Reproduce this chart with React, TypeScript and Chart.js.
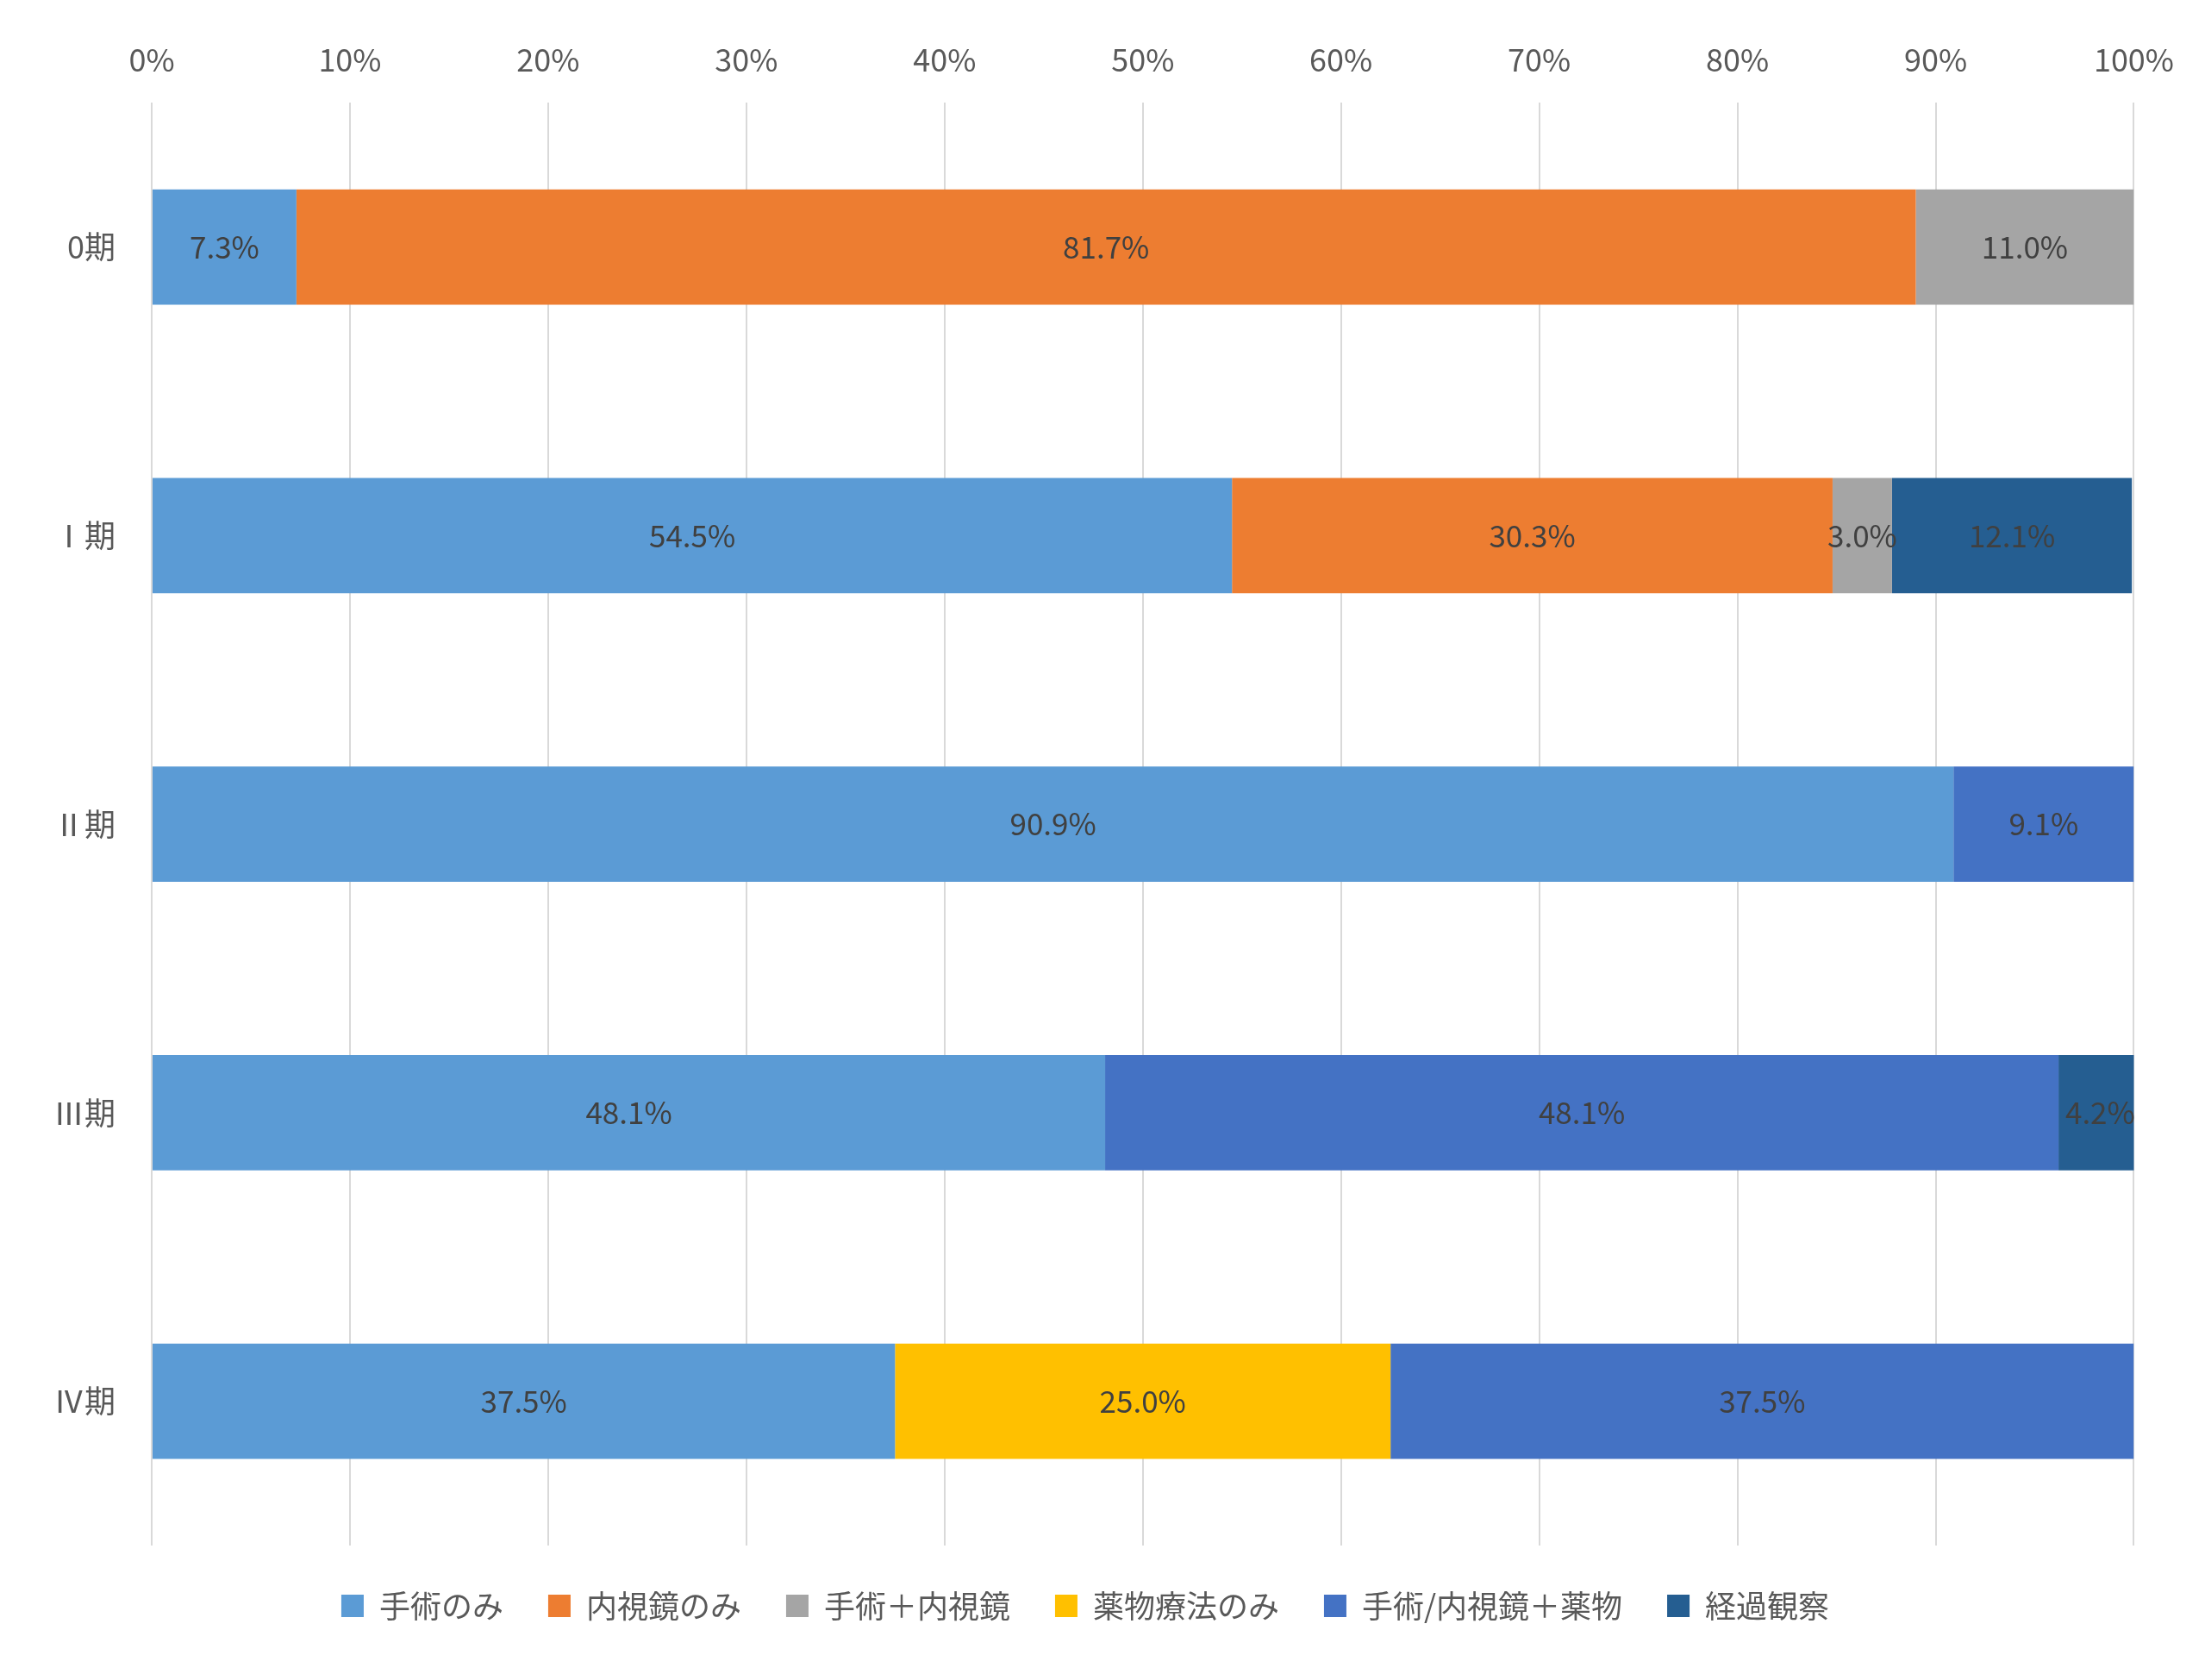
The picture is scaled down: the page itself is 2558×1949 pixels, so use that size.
import React, { useEffect, useRef } from "react";
import { Chart, registerables } from "chart.js";
Chart.register(...registerables);

const categories = ["0期", "Ⅰ期", "Ⅱ期", "Ⅲ期", "Ⅳ期"];
const seriesNames = ["手術のみ", "内視鏡のみ", "手術＋内視鏡", "薬物療法のみ", "手術/内視鏡＋薬物", "経過観察"];
const s1 = [7.3, 54.5, 90.9, 48.1, 37.5];
const s2 = [81.7, 30.3, 0, 0, 0];
const s3 = [11.0, 3.0, 0, 0, 0];
const s4 = [0, 0, 0, 0, 25.0];
const s5 = [0, 0, 9.1, 48.1, 37.5];
const s6 = [0, 12.1, 0, 4.2, 0];
const colors = ["#5B9BD5", "#ED7D31", "#A5A5A5", "#FFC000", "#4472C4", "#255E91"];
const FONT = "'Noto Sans CJK JP', 'Noto Sans', sans-serif";

const labelPlugin = {
  id: "barLabels",
  afterDatasetsDraw(chart: any) {
    const ctx = chart.ctx;
    ctx.save();
    ctx.font = `35px ${FONT}`;
    ctx.fillStyle = "#404040";
    ctx.textAlign = "center";
    ctx.textBaseline = "middle";
    chart.data.datasets.forEach((ds: any, i: number) => {
      const meta = chart.getDatasetMeta(i);
      meta.data.forEach((el: any, j: number) => {
        const v = ds.data[j];
        if (!v) return;
        const p = el.getProps(["x", "y", "base"], true);
        ctx.fillText(v.toFixed(1) + "%", (p.x + p.base) / 2, p.y);
      });
    });
    ctx.restore();
  },
};

export default function App() {
  const ref = useRef<HTMLCanvasElement>(null);
  useEffect(() => {
    const all = [s1, s2, s3, s4, s5, s6];
    const chart = new Chart(ref.current!, {
      type: "bar",
      data: {
        labels: categories,
        datasets: all.map((d, i) => ({
          label: seriesNames[i],
          data: d,
          backgroundColor: colors[i],
          barPercentage: 0.8,
          categoryPercentage: 0.5,
        })),
      },
      options: {
        indexAxis: "y",
        animation: false,
        responsive: true,
        maintainAspectRatio: false,
        layout: { padding: { left: 20, right: 60, top: 12, bottom: 50 } },
        scales: {
          x: {
            position: "top",
            stacked: true,
            min: 0,
            max: 100,
            ticks: { stepSize: 10, callback: (v: any) => v + "%", color: "#595959", font: { size: 36, family: FONT }, padding: 28 },
            grid: { color: "#D9D9D9", lineWidth: 2, drawTicks: false },
            border: { display: false },
          },
          y: {
            stacked: true,
            ticks: { color: "#595959", font: { size: 36, family: FONT }, padding: 34 },
            grid: { display: false },
            border: { display: false },
          },
        },
        plugins: {
          legend: {
            position: "bottom",
            labels: { boxWidth: 26, boxHeight: 26, color: "#595959", font: { size: 36, family: FONT }, padding: 52 },
          },
          tooltip: { enabled: false },
        },
      },
      plugins: [labelPlugin],
    });
    return () => chart.destroy();
  }, []);
  return (
    <div style={{ width: 2542, height: 1933 }}>
      <canvas ref={ref} />
    </div>
  );
}
